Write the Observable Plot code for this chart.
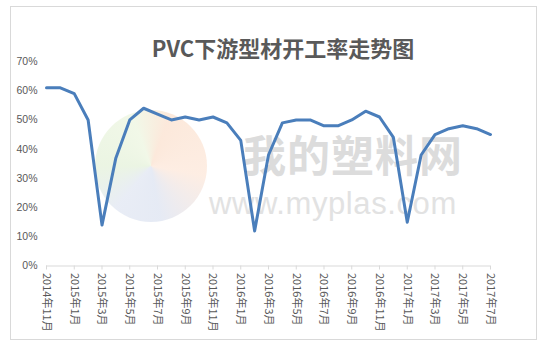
<!DOCTYPE html>
<html><head><meta charset="utf-8">
<script src="https://cdn.jsdelivr.net/npm/d3@7"></script>
<script src="https://cdn.jsdelivr.net/npm/@observablehq/plot@0.6"></script>
<style>
body{margin:0;background:#fff;}
#wrap{position:relative;width:547px;height:349px;overflow:hidden;font-family:"Noto Sans CJK SC",sans-serif;}
#frame{position:absolute;left:10px;top:6px;width:527px;height:334px;border:1px solid #d9d9d9;box-sizing:border-box;}
#title{position:absolute;left:0;width:566px;top:33px;text-align:center;font-size:22px;font-weight:bold;color:#595959;line-height:28px;white-space:nowrap;}
#logo{position:absolute;left:95px;top:110px;width:112px;height:112px;border-radius:50%;
 background:conic-gradient(from 20deg,#fbe3d2 0deg,#fde9dc 80deg,#dfe5f2 150deg,#e3e8f3 200deg,#e6f2dc 250deg,#eef6e2 320deg,#fbe3d2 360deg);opacity:.8;}
#wm1{position:absolute;left:243px;top:132px;font-size:43px;line-height:43px;font-weight:bold;color:#dcdcdc;letter-spacing:1px;white-space:nowrap;}
#wm2{position:absolute;left:209px;top:188px;font-family:"Liberation Sans",sans-serif;font-size:31px;line-height:31px;letter-spacing:0.6px;color:#e2e2e2;white-space:nowrap;}
#chart{position:absolute;left:0;top:0;}
</style></head>
<body>
<div id="wrap">
  <div id="frame"></div>
  <div id="logo"></div>
  <div id="wm1">我的塑料网</div>
  <div id="wm2">www.myplas.com</div>
  <div id="chart"></div>
  <div id="title">PVC下游型材开工率走势图</div>
</div>
<script>
const months = ["2014年11月","2014年12月",
  "2015年1月","2015年2月","2015年3月","2015年4月","2015年5月","2015年6月","2015年7月","2015年8月","2015年9月","2015年10月","2015年11月","2015年12月",
  "2016年1月","2016年2月","2016年3月","2016年4月","2016年5月","2016年6月","2016年7月","2016年8月","2016年9月","2016年10月","2016年11月","2016年12月",
  "2017年1月","2017年2月","2017年3月","2017年4月","2017年5月","2017年6月","2017年7月"];
const rates = [61,61,
  59,50,14,37,50,54,52,50,51,50,51,49,
  43,12,38,49,50,50,48,48,50,53,51,44,
  15,38,45,47,48,47,45];
const xTickLabels = ["2014年11月","2015年1月","2015年3月","2015年5月","2015年7月","2015年9月","2015年11月",
  "2016年1月","2016年3月","2016年5月","2016年7月","2016年9月","2016年11月","2017年1月","2017年3月","2017年5月","2017年7月"];
const yTicks = [0,10,20,30,40,50,60,70];

const data = months.map((m,i)=>({month:m, rate:rates[i]}));

const chart = Plot.plot({
  width:547, height:349,
  marginLeft:46, marginRight:57, marginTop:61, marginBottom:83.5,
  x:{type:"point", domain:months, padding:0, round:false},
  y:{domain:[0,70]},
  style:{background:"none", fontFamily:"'Liberation Sans', sans-serif", fontSize:"10.5px"},
  marks:[
    Plot.axisY({ticks:yTicks, tickSize:0, tickPadding:9, tickFormat:d=>d+"%", fill:"#595959", label:null}),
    Plot.ruleY([0], {stroke:"#d9d9d9"}),
    Plot.axisX({ticks:xTickLabels, tickSize:4, tickPadding:3, tickRotate:90, stroke:"#d9d9d9", fill:"#595959", label:null, fontFamily:"'Noto Sans CJK SC', sans-serif", fontSize:11}),
    Plot.lineY(data, {x:"month", y:"rate", stroke:"#4a7ebb", strokeWidth:3, strokeLinejoin:"round"})
  ]
});
document.getElementById("chart").appendChild(chart);
</script>
</body></html>
